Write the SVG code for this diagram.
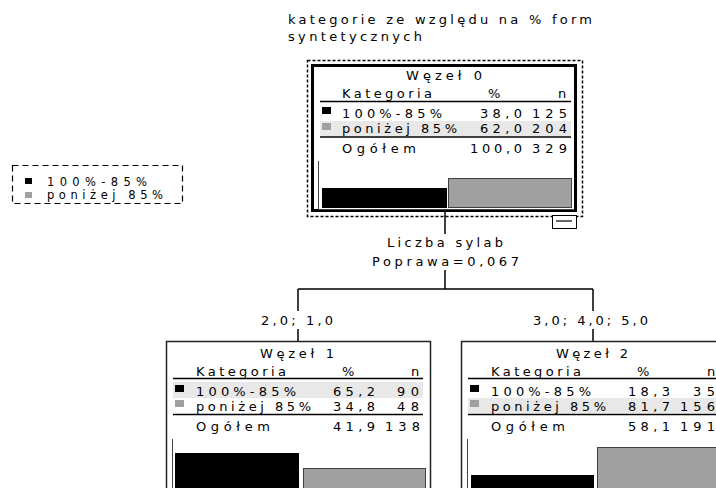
<svg xmlns="http://www.w3.org/2000/svg" width="716" height="488" viewBox="0 0 716 488">
<style>
text{font-family:"DejaVu Sans","Liberation Sans",sans-serif;font-size:13px;fill:#000}
.lg{font-size:11.5px}
.ln{stroke:#000;stroke-width:1.5;fill:none}
.frame{fill:#fff;stroke:#222;stroke-width:1.5}
.band{fill:#e8e8e8}
.sqb{fill:#000}
.sqg{fill:#a0a0a0}
.barb{fill:#000}
.barg{fill:#a0a0a0;stroke:#404040;stroke-width:1}
.axis{stroke:#444;stroke-width:1;fill:none}
.con{stroke:#000;stroke-width:1.5;fill:none}
</style>
<rect width="716" height="488" fill="#fff"/>
<g id="title">
<text x="288" y="24" textLength="304" lengthAdjust="spacing">kategorie ze względu na % form</text>
<text x="288" y="40.5" textLength="134" lengthAdjust="spacing">syntetycznych</text>
</g>
<g id="legend">
<rect x="12.5" y="165.5" width="170" height="38" fill="none" stroke="#000" stroke-width="1.2" stroke-dasharray="6,4"/>
<rect class="sqb" x="25" y="178" width="7" height="6"/>
<text class="lg" x="47" y="185.5" textLength="100" lengthAdjust="spacing">100%-85%</text>
<rect class="sqg" x="25" y="192" width="7" height="6"/>
<text class="lg" x="47" y="199" textLength="116" lengthAdjust="spacing">poniżej 85%</text>
</g>
<g id="connectors">
<path class="con" d="M445,212V234M445,270V289M298,289H593M298,289V311M298,329V341M593,289V311M593,329V341"/>
<text x="387" y="247" textLength="116" lengthAdjust="spacing">Liczba sylab</text>
<text x="372" y="266" textLength="147" lengthAdjust="spacing">Poprawa=0,067</text>
<text x="261" y="325" textLength="72" lengthAdjust="spacing">2,0; 1,0</text>
<text x="533" y="325" textLength="115" lengthAdjust="spacing">3,0; 4,0; 5,0</text>
</g>
<g id="node0">
<rect x="307.5" y="60.5" width="275" height="156" fill="none" stroke="#000" stroke-width="1.5" stroke-dasharray="3,2"/>
<rect x="312.5" y="65.5" width="263" height="145" fill="#fff" stroke="#000" stroke-width="3"/>
<text x="406" y="80" textLength="76" lengthAdjust="spacing">Węzeł 0</text>
<text x="342" y="98" textLength="90" lengthAdjust="spacing">Kategoria</text>
<text x="488" y="98">%</text>
<text x="558" y="98">n</text>
<path class="ln" d="M320,101.5H571"/>
<rect class="sqb" x="322" y="107" width="9" height="7"/>
<text x="342" y="118" textLength="100" lengthAdjust="spacing">100%-85%</text>
<text x="480" y="118" textLength="42" lengthAdjust="spacing">38,0</text>
<text x="532" y="118" textLength="35" lengthAdjust="spacing">125</text>
<rect class="band" x="320" y="121" width="251" height="15"/>
<rect class="sqg" x="322" y="123" width="9" height="7"/>
<text x="342" y="133" textLength="115" lengthAdjust="spacing">poniżej 85%</text>
<text x="480" y="133" textLength="42" lengthAdjust="spacing">62,0</text>
<text x="532" y="133" textLength="35" lengthAdjust="spacing">204</text>
<path class="ln" d="M320,137H571"/>
<text x="342" y="153" textLength="74" lengthAdjust="spacing">Ogółem</text>
<text x="470" y="153" textLength="52" lengthAdjust="spacing">100,0</text>
<text x="532" y="153" textLength="35" lengthAdjust="spacing">329</text>
<path class="axis" d="M318.5,161V209.5H574"/>
<rect class="barb" x="322" y="188" width="125" height="20"/>
<rect class="barg" x="448.5" y="178.5" width="123" height="29"/>
<rect x="552.5" y="215.5" width="24" height="13" fill="#fff" stroke="#000" stroke-width="1"/>
<path d="M556,221H572" stroke="#000" stroke-width="1.2"/>
</g>
<g id="node1">
<rect class="frame" x="166.5" y="341.5" width="264" height="200"/>
<text x="260" y="358" textLength="74" lengthAdjust="spacing">Węzeł 1</text>
<text x="196" y="376" textLength="90" lengthAdjust="spacing">Kategoria</text>
<text x="342" y="376">%</text>
<text x="411" y="376">n</text>
<path class="ln" d="M173,378.5H423"/>
<rect class="band" x="173" y="382" width="250" height="16"/>
<rect class="sqb" x="175" y="385" width="9" height="7"/>
<text x="196" y="396" textLength="100" lengthAdjust="spacing">100%-85%</text>
<text x="333" y="396" textLength="42" lengthAdjust="spacing">65,2</text>
<text x="397" y="396" textLength="22" lengthAdjust="spacing">90</text>
<rect class="sqg" x="175" y="400" width="9" height="7"/>
<text x="196" y="411" textLength="115" lengthAdjust="spacing">poniżej 85%</text>
<text x="333" y="411" textLength="42" lengthAdjust="spacing">34,8</text>
<text x="397" y="411" textLength="22" lengthAdjust="spacing">48</text>
<path class="ln" d="M173,414.5H423"/>
<text x="196" y="431" textLength="74" lengthAdjust="spacing">Ogółem</text>
<text x="333" y="431" textLength="42" lengthAdjust="spacing">41,9</text>
<text x="385" y="431" textLength="35" lengthAdjust="spacing">138</text>
<path class="axis" d="M172.5,439V490"/>
<rect class="barb" x="175" y="453" width="124" height="40"/>
<rect class="barg" x="303.5" y="468.5" width="122" height="30"/>
</g>
<g id="node2">
<rect class="frame" x="461.5" y="341.5" width="264" height="200"/>
<text x="556" y="358" textLength="72" lengthAdjust="spacing">Węzeł 2</text>
<text x="491" y="376" textLength="90" lengthAdjust="spacing">Kategoria</text>
<text x="637" y="376">%</text>
<text x="707" y="376">n</text>
<path class="ln" d="M468,378.5H718"/>
<rect class="sqb" x="470" y="385" width="9" height="7"/>
<text x="491" y="396" textLength="100" lengthAdjust="spacing">100%-85%</text>
<text x="628" y="396" textLength="42" lengthAdjust="spacing">18,3</text>
<text x="693" y="396" textLength="22" lengthAdjust="spacing">35</text>
<rect class="band" x="468" y="398" width="250" height="15"/>
<rect class="sqg" x="470" y="400" width="9" height="7"/>
<text x="491" y="411" textLength="115" lengthAdjust="spacing">poniżej 85%</text>
<text x="628" y="411" textLength="42" lengthAdjust="spacing">81,7</text>
<text x="680" y="411" textLength="35" lengthAdjust="spacing">156</text>
<path class="ln" d="M468,414.5H718"/>
<text x="491" y="431" textLength="74" lengthAdjust="spacing">Ogółem</text>
<text x="628" y="431" textLength="42" lengthAdjust="spacing">58,1</text>
<text x="680" y="431" textLength="35" lengthAdjust="spacing">191</text>
<path class="axis" d="M467.5,439V490"/>
<rect class="barb" x="471" y="475" width="123" height="20"/>
<rect class="barg" x="597.5" y="447.5" width="130" height="50"/>
</g>
</svg>
